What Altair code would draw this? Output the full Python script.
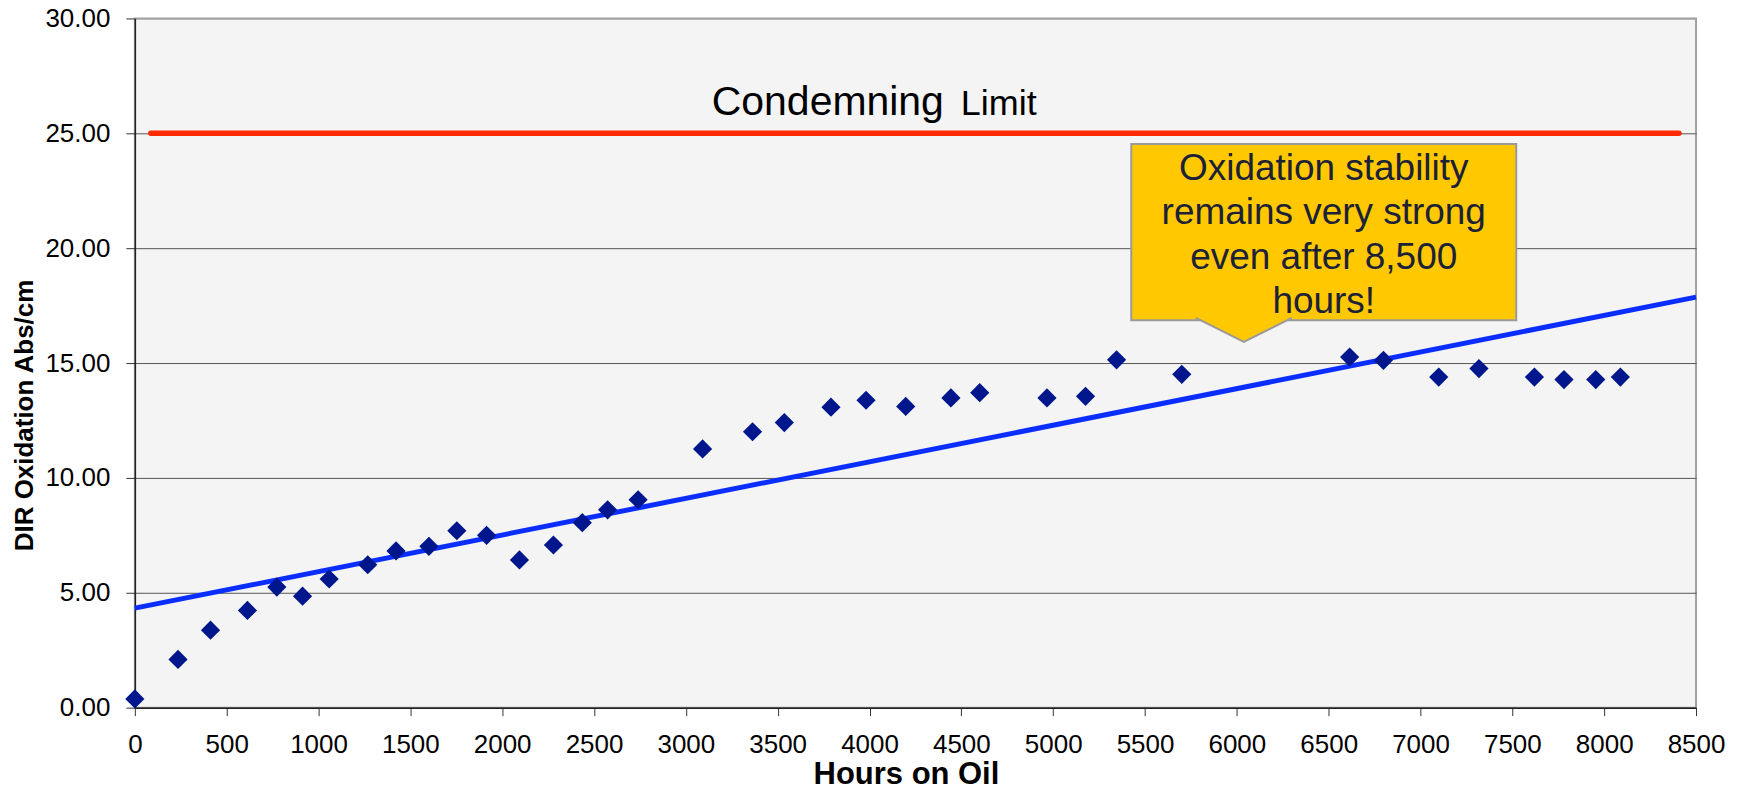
import altair as alt
import pandas as pd

# ---- data ----
hours = [0, 235, 412, 613, 773, 913, 1058, 1268, 1422, 1601, 1753, 1915, 2094, 2279,
         2436, 2574, 2740, 3091, 3363, 3536, 3790, 3981, 4197, 4443, 4600, 4966, 5176,
         5345, 5700, 6614, 6798, 7099, 7318, 7620, 7781, 7954, 8088]
dir_oxidation = [0.38, 2.10, 3.37, 4.23, 5.25, 4.85, 5.60, 6.22, 6.82, 7.02, 7.70, 7.50,
                 6.43, 7.08, 8.05, 8.61, 9.05, 11.26, 12.01, 12.41, 13.08, 13.38, 13.11,
                 13.48, 13.71, 13.48, 13.55, 15.14, 14.51, 15.26, 15.12, 14.39, 14.76,
                 14.39, 14.28, 14.28, 14.39]

trend_hours = [0, 8500]
trend_values = [4.33, 17.87]

limit_hours = [87, 8407]
limit_value = [25, 25]

x_ticks = list(range(0, 8501, 500))
y_ticks = [0, 5, 10, 15, 20, 25, 30]

limit_words = ["Condemning", "Limit"]
callout_text = "Oxidation stability\nremains very strong\neven after 8,500\nhours!"

FONT = "Liberation Sans"

points_df = pd.DataFrame({"Hours": hours, "DIR": dir_oxidation})
trend_df = pd.DataFrame({"Hours": trend_hours, "DIR": trend_values})
limit_df = pd.DataFrame({"Hours": limit_hours, "DIR": limit_value})

x_enc = alt.X(
    "Hours:Q",
    title="Hours on Oil",
    scale=alt.Scale(domain=[0, 8500], nice=False, zero=False),
    axis=alt.Axis(
        values=x_ticks, format="d", grid=False,
        labelFont=FONT, labelFontSize=26, labelColor="#000000", labelPadding=16,
        labelFlush=False, labelOverlap=False,
        tickSize=8, tickColor="#333333", tickWidth=1,
        domainColor="#222222", domainWidth=1.5,
        titleFont=FONT, titleFontSize=31, titleFontWeight="bold", titleColor="#000000",
        titleX=772, titleY=76, titleBaseline="alphabetic",
    ),
)
y_enc = alt.Y(
    "DIR:Q",
    title="DIR Oxidation Abs/cm",
    scale=alt.Scale(domain=[0, 30], nice=False, zero=True),
    axis=alt.Axis(
        values=y_ticks, format=".2f", grid=True,
        gridColor={"condition": {"test": "datum.value == 30", "value": "#A0A0A0"}, "value": "#555555"},
        gridWidth=1,
        labelFont=FONT, labelFontSize=26, labelColor="#000000", labelPadding=16,
        labelFlush=False, labelOverlap=False,
        tickSize=9, tickColor="#333333", tickWidth=1,
        domainColor="#222222", domainWidth=1.5,
        titleFont=FONT, titleFontSize=26, titleFontWeight="bold", titleColor="#000000",
        titleX=-102, titleY=397, titleBaseline="alphabetic", titleAngle=-90,
    ),
)

xs = alt.X("Hours:Q")
ys = alt.Y("DIR:Q")

limit_line = alt.Chart(limit_df).mark_line(
    color="#FF2A00", strokeWidth=5.5, strokeCap="round"
).encode(x=x_enc, y=y_enc)

trend_line = alt.Chart(trend_df).mark_line(
    color="#0A2EFF", strokeWidth=5
).encode(x=xs, y=ys)

pts = alt.Chart(points_df).mark_point(
    shape="diamond", filled=True, size=370, color="#00168C", opacity=1
).encode(x=xs, y=ys)

# callout box (data-space anchors)
box_df = pd.DataFrame({"x1": [5425], "x2": [7521], "y1": [16.86], "y2": [24.53]})
box = alt.Chart(box_df).mark_rect(
    fill="#FFC800", stroke="#9A9A9A", strokeWidth=2
).encode(x="x1:Q", x2="x2:Q", y="y1:Q", y2="y2:Q")

tri_df = pd.DataFrame({"Hours": [6038], "DIR": [16.86]})
tri = alt.Chart(tri_df).mark_point(
    shape="M -1 -0.05 L 0 0.452 L 1 -0.05", size=9216, filled=True,
    fill="#FFC800", stroke="#9A9A9A", strokeWidth=2, opacity=1, fillOpacity=1
).encode(x=xs, y=ys)

callout_df = pd.DataFrame({"Hours": [6473], "DIR": [22.97], "t": [callout_text]})
callout = alt.Chart(callout_df).mark_text(
    align="center", baseline="alphabetic", lineBreak="\n", lineHeight=44.5,
    font=FONT, fontSize=37, color="#1B2238"
).encode(x=xs, y=ys, text="t:N")

cond_df = pd.DataFrame({"Hours": [3141], "DIR": [25.79], "t": [limit_words[0]]})
cond = alt.Chart(cond_df).mark_text(
    align="left", baseline="alphabetic", font=FONT, fontSize=41, color="#000000"
).encode(x=xs, y=ys, text="t:N")

lim_df = pd.DataFrame({"Hours": [4497], "DIR": [25.79], "t": [limit_words[1]]})
lim = alt.Chart(lim_df).mark_text(
    align="left", baseline="alphabetic", font=FONT, fontSize=36, color="#000000"
).encode(x=xs, y=ys, text="t:N")

chart = alt.layer(limit_line, trend_line, pts, box, tri, callout, cond, lim).properties(
    width=1563, height=690,
    autosize=alt.AutoSizeParams(type="none"),
    padding={"left": 127, "top": 10, "right": 40, "bottom": 82},
    background="#FFFFFF",
).configure_view(
    fill="#F4F4F4", stroke="#A0A0A0", strokeWidth=2
)

chart.save("out.html", embed_options={"renderer": "svg", "actions": False})
